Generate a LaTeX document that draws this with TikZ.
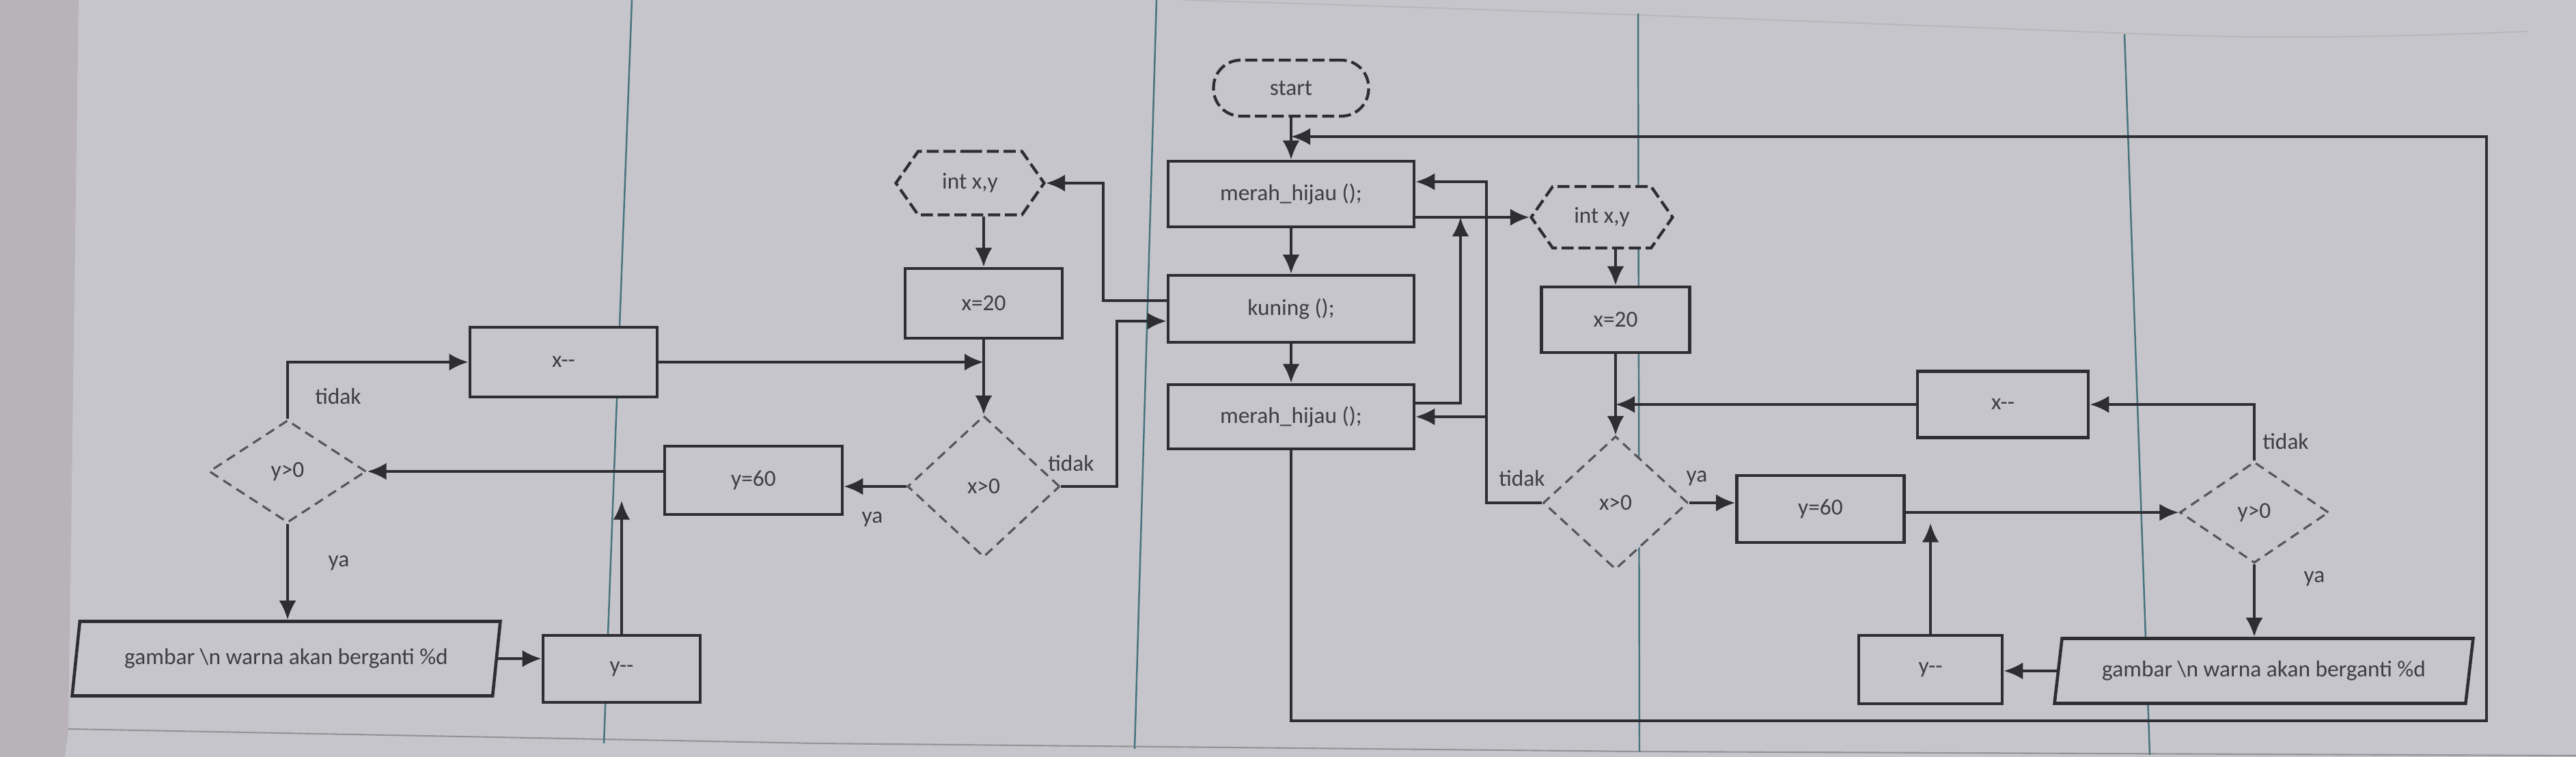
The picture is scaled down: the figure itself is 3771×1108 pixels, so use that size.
\documentclass[tikz,border=0pt]{standalone}
\usepackage{fontspec}
\setmainfont{Carlito}
\usetikzlibrary{shapes.geometric,shapes.symbols,arrows.meta,calc}
\definecolor{paper}{RGB}{198,197,204}
\definecolor{paperdark}{RGB}{184,178,185}
\definecolor{ink}{RGB}{45,45,50}
\definecolor{txt}{RGB}{62,62,68}
\definecolor{dgray}{RGB}{85,85,90}
\definecolor{lanec}{RGB}{70,115,125}
\begin{document}
\begin{tikzpicture}[x=0.1mm,y=-0.1mm,
  every node/.style={font=\fontsize{9.5pt}{11pt}\selectfont, text=txt},
  box/.style={rectangle, draw=ink, fill=paper, line width=1.3pt, inner sep=0pt},
  dia/.style={diamond, draw=dgray, fill=paper, dashed, dash pattern=on 4pt off 2.5pt, line width=0.9pt, inner sep=0pt},
  hexa/.style={signal, signal to=west and east, signal pointer angle=110, draw=ink, fill=paper, dashed, dash pattern=on 5pt off 2pt, line width=1.2pt, inner sep=0pt},
  term/.style={rectangle, rounded corners=4mm, draw=ink, fill=paper, dashed, dash pattern=on 5pt off 2pt, line width=1.2pt, inner sep=0pt},
  para/.style={trapezium, trapezium left angle=73, trapezium right angle=107, trapezium stretches=true, draw=ink, fill=paper, line width=1.3pt, inner sep=0pt},
  flow/.style={draw=ink, line width=1.2pt, -{Latex[length=2.8mm,width=2.5mm]}},
  lane/.style={draw=lanec, line width=0.7pt},
  lbl/.style={font=\fontsize{9.5pt}{11pt}\selectfont, text=txt}
]
% background
\fill[paper] (0,0) rectangle (3771,1108);
\fill[paperdark] (0,0) -- (115,0) -- (100,1067) -- (95,1108) -- (0,1108) -- cycle;
\useasboundingbox (0,0) rectangle (3771,1108);
\draw[gray!55, line width=0.6pt] (1731,0) .. controls (2400,20) and (3000,45) .. (3200,52) .. controls (3400,58) and (3600,50) .. (3700,46);
\draw[gray!60!black!60, line width=0.6pt] (100,1067) -- (1194,1088) -- (2400,1100) -- (3771,1106);
% lanes
\draw[lane] (925,0) -- (884,1088);
\draw[lane] (1693,0) -- (1661,1096);
\draw[lane] (2398,20) -- (2400,1100);
\draw[lane] (3110,50) -- (3147,1105);

% centre column
\node[term, minimum width=22.7mm, minimum height=8.2mm] (start) at (1890,129) {start};
\node[box, minimum width=36mm, minimum height=9.6mm] (mh1) at (1890,284) {merah\_hijau ();};
\node[box, minimum width=36mm, minimum height=9.8mm] (kun) at (1890,452) {kuning ();};
\node[box, minimum width=36mm, minimum height=9.4mm] (mh2) at (1890,610) {merah\_hijau ();};

% left part
\node[hexa, minimum width=21.7mm, minimum height=9.3mm] (int1) at (1420,268) {int x,y};
\node[box, minimum width=23mm, minimum height=10.2mm] (x20a) at (1440,444) {x=20};
\node[dia, minimum width=22.3mm, minimum height=20.7mm] (xg0a) at (1440,712) {x>0};
\node[box, minimum width=26mm, minimum height=10mm] (y60a) at (1103,703) {y=60};
\node[box, minimum width=27.4mm, minimum height=10.2mm] (xmma) at (825,530) {x-{}-};
\node[dia, minimum width=23mm, minimum height=15mm] (yg0a) at (421,690) {y>0};
\node[para, minimum width=62.8mm, minimum height=10.9mm] (gama) at (419,964) {gambar \textbackslash n warna akan berganti \%d};
\node[box, minimum width=23mm, minimum height=9.8mm] (yma) at (910,979) {y-{}-};

% right part
\node[hexa, minimum width=20.7mm, minimum height=9mm] (int2) at (2345,318) {int x,y};
\node[box, minimum width=21.7mm, minimum height=9.6mm] (x20b) at (2365,468) {x=20};
\node[dia, minimum width=21.2mm, minimum height=19.5mm] (xg0b) at (2365,736) {x>0};
\node[box, minimum width=24.5mm, minimum height=9.8mm] (y60b) at (2665,745) {y=60};
\node[box, minimum width=25mm, minimum height=9.7mm] (xmmb) at (2932,592) {x-{}-};
\node[dia, minimum width=21.8mm, minimum height=14.8mm] (yg0b) at (3300,750) {y>0};
\node[para, minimum width=61.4mm, minimum height=9.5mm] (gamb) at (3314,982) {gambar \textbackslash n warna akan berganti \%d};
\node[box, minimum width=21mm, minimum height=10mm] (ymb) at (2826,980) {y-{}-};

% bend coordinates
\coordinate (c1) at (2176,266);
\coordinate (c2) at (2138,590);
\coordinate (c3) at (1615,268);
\coordinate (c4) at (1615,440);
\coordinate (c5) at (1635,470);
\coordinate (b1) at (1890,1055);
\coordinate (b2) at (3640,1055);
\coordinate (b3) at (3640,200);

% centre connectors
\draw[flow] (start.south) -- (mh1.north);
\draw[flow] (mh1.south) -- (kun.north);
\draw[flow] (kun.south) -- (mh2.north);
\draw[flow] (mh2.south) -- (b1) -- (b2) -- (b3) -- (start.south |- b3);
\draw[flow] (mh1.east |- int2.west) -- (int2.west);
\draw[flow] (mh2.east |- c2) -- (c2) -- (c2 |- int2.west);
\draw[flow] (xg0b.west) -| (c1) -- (mh1.east |- c1);
\draw[flow] (c1 |- mh2.east) -- (mh2.east);

% left connectors
\draw[flow] (kun.west |- c4) -- (c4) -- (c3) -- (int1.east);
\draw[flow] (xg0a.east) -| (c5) -- (kun.west |- c5);
\draw[flow] (int1.south -| x20a.north) -- (x20a.north);
\draw[flow] (x20a.south) -- (xg0a.north);
\draw[flow] (xmma.east) -- (xmma.east -| x20a.south);
\draw[flow] (xg0a.west) -- (xg0a.west -| y60a.east);
\draw[flow] (y60a.west |- yg0a.east) -- (yg0a.east);
\draw[flow] (yg0a.north) |- (xmma.west);
\draw[flow] (yg0a.south) -- (yg0a.south |- gama.north);
\draw[flow] (gama.east) -- (gama.east -| yma.west);
\draw[flow] (yma.north) -- ++(0,-195);

% right connectors
\draw[flow] (int2.south -| x20b.north) -- (x20b.north);
\draw[flow] (x20b.south) -- (xg0b.north);
\draw[flow] (xmmb.west) -- (xmmb.west -| x20b.south);
\draw[flow] (xg0b.east) -- (xg0b.east -| y60b.west);
\draw[flow] (y60b.east |- yg0b.west) -- (yg0b.west);
\draw[flow] (yg0b.north) |- (xmmb.east);
\draw[flow] (yg0b.south) -- (yg0b.south |- gamb.north);
\draw[flow] (gamb.west) -- (gamb.west -| ymb.east);
\draw[flow] (ymb.north) -- ++(0,-162);

% labels
\node[lbl] (l1) at (495,580) {tidak};
\node[lbl] (l2) at (496,824) {ya};
\node[lbl] (l3) at (1277,760) {ya};
\node[lbl] (l4) at (1568,678) {tidak};
\node[lbl] (l5) at (2228,700) {tidak};
\node[lbl] (l6) at (2484,700) {ya};
\node[lbl] (l7) at (3346,646) {tidak};
\node[lbl] (l8) at (3388,847) {ya};
\end{tikzpicture}
\end{document}
